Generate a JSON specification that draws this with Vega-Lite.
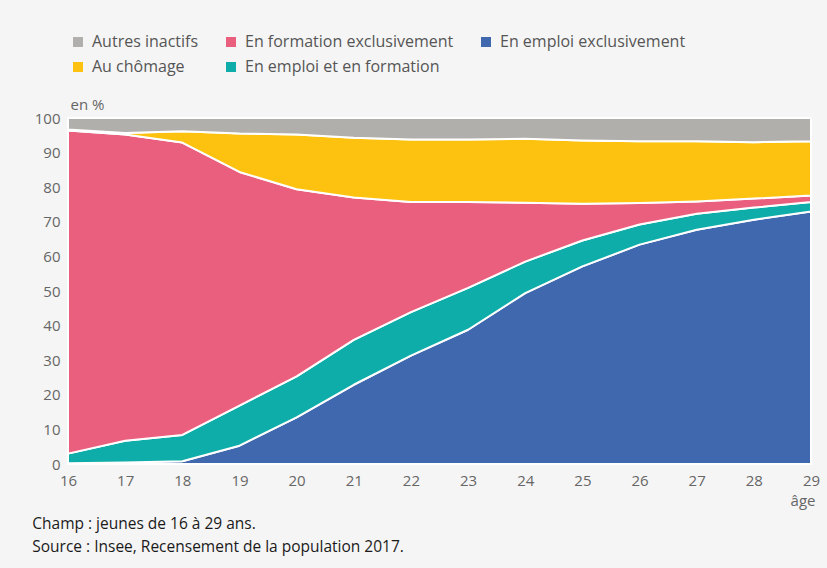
{
  "$schema": "https://vega.github.io/schema/vega-lite/v6.json",
  "width": 743,
  "height": 346,
  "autosize": {"type": "none"},
  "padding": {"left": 68, "top": 118, "right": 16, "bottom": 104},
  "background": "#f5f5f5",
  "config": {
    "font": "Open Sans",
    "view": {"stroke": null},
    "axis": {"labelFont": "Open Sans", "labelFontSize": 15, "labelColor": "#666666", "titleFont": "Open Sans", "titleFontSize": 15, "titleColor": "#666666", "titleFontWeight": "normal"}
  },
  "title": {
    "text": ["Champ : jeunes de 16 à 29 ans.", "Source : Insee, Recensement de la population 2017."],
    "orient": "bottom",
    "anchor": "start",
    "dx": -2,
    "offset": 9,
    "font": "Open Sans",
    "fontSize": 15.5,
    "fontWeight": "normal",
    "color": "#1a1a1a",
    "lineHeight": 23
  },
  "data": {
    "values": [
      {"age": 16, "statut": "En emploi exclusivement", "rang": 1, "part": 0.2},
      {"age": 16, "statut": "En emploi et en formation", "rang": 2, "part": 2.8},
      {"age": 16, "statut": "En formation exclusivement", "rang": 3, "part": 93.4},
      {"age": 16, "statut": "Au chômage", "rang": 4, "part": 0.3},
      {"age": 16, "statut": "Autres inactifs", "rang": 5, "part": 3.3},
      {"age": 17, "statut": "En emploi exclusivement", "rang": 1, "part": 0.4},
      {"age": 17, "statut": "En emploi et en formation", "rang": 2, "part": 6.3},
      {"age": 17, "statut": "En formation exclusivement", "rang": 3, "part": 88.5},
      {"age": 17, "statut": "Au chômage", "rang": 4, "part": 0.5},
      {"age": 17, "statut": "Autres inactifs", "rang": 5, "part": 4.3},
      {"age": 18, "statut": "En emploi exclusivement", "rang": 1, "part": 0.8},
      {"age": 18, "statut": "En emploi et en formation", "rang": 2, "part": 7.6},
      {"age": 18, "statut": "En formation exclusivement", "rang": 3, "part": 84.5},
      {"age": 18, "statut": "Au chômage", "rang": 4, "part": 3.3},
      {"age": 18, "statut": "Autres inactifs", "rang": 5, "part": 3.8},
      {"age": 19, "statut": "En emploi exclusivement", "rang": 1, "part": 5.3},
      {"age": 19, "statut": "En emploi et en formation", "rang": 2, "part": 11.6},
      {"age": 19, "statut": "En formation exclusivement", "rang": 3, "part": 67.5},
      {"age": 19, "statut": "Au chômage", "rang": 4, "part": 11.1},
      {"age": 19, "statut": "Autres inactifs", "rang": 5, "part": 4.5},
      {"age": 20, "statut": "En emploi exclusivement", "rang": 1, "part": 13.5},
      {"age": 20, "statut": "En emploi et en formation", "rang": 2, "part": 11.8},
      {"age": 20, "statut": "En formation exclusivement", "rang": 3, "part": 54.1},
      {"age": 20, "statut": "Au chômage", "rang": 4, "part": 15.8},
      {"age": 20, "statut": "Autres inactifs", "rang": 5, "part": 4.8},
      {"age": 21, "statut": "En emploi exclusivement", "rang": 1, "part": 22.9},
      {"age": 21, "statut": "En emploi et en formation", "rang": 2, "part": 13.0},
      {"age": 21, "statut": "En formation exclusivement", "rang": 3, "part": 41.1},
      {"age": 21, "statut": "Au chômage", "rang": 4, "part": 17.3},
      {"age": 21, "statut": "Autres inactifs", "rang": 5, "part": 5.7},
      {"age": 22, "statut": "En emploi exclusivement", "rang": 1, "part": 31.3},
      {"age": 22, "statut": "En emploi et en formation", "rang": 2, "part": 12.6},
      {"age": 22, "statut": "En formation exclusivement", "rang": 3, "part": 31.8},
      {"age": 22, "statut": "Au chômage", "rang": 4, "part": 18.1},
      {"age": 22, "statut": "Autres inactifs", "rang": 5, "part": 6.2},
      {"age": 23, "statut": "En emploi exclusivement", "rang": 1, "part": 38.8},
      {"age": 23, "statut": "En emploi et en formation", "rang": 2, "part": 12.1},
      {"age": 23, "statut": "En formation exclusivement", "rang": 3, "part": 24.8},
      {"age": 23, "statut": "Au chômage", "rang": 4, "part": 18.1},
      {"age": 23, "statut": "Autres inactifs", "rang": 5, "part": 6.2},
      {"age": 24, "statut": "En emploi exclusivement", "rang": 1, "part": 49.4},
      {"age": 24, "statut": "En emploi et en formation", "rang": 2, "part": 9.1},
      {"age": 24, "statut": "En formation exclusivement", "rang": 3, "part": 17.0},
      {"age": 24, "statut": "Au chômage", "rang": 4, "part": 18.5},
      {"age": 24, "statut": "Autres inactifs", "rang": 5, "part": 6.0},
      {"age": 25, "statut": "En emploi exclusivement", "rang": 1, "part": 57.1},
      {"age": 25, "statut": "En emploi et en formation", "rang": 2, "part": 7.5},
      {"age": 25, "statut": "En formation exclusivement", "rang": 3, "part": 10.6},
      {"age": 25, "statut": "Au chômage", "rang": 4, "part": 18.3},
      {"age": 25, "statut": "Autres inactifs", "rang": 5, "part": 6.5},
      {"age": 26, "statut": "En emploi exclusivement", "rang": 1, "part": 63.4},
      {"age": 26, "statut": "En emploi et en formation", "rang": 2, "part": 5.8},
      {"age": 26, "statut": "En formation exclusivement", "rang": 3, "part": 6.2},
      {"age": 26, "statut": "Au chômage", "rang": 4, "part": 17.9},
      {"age": 26, "statut": "Autres inactifs", "rang": 5, "part": 6.7},
      {"age": 27, "statut": "En emploi exclusivement", "rang": 1, "part": 67.7},
      {"age": 27, "statut": "En emploi et en formation", "rang": 2, "part": 4.6},
      {"age": 27, "statut": "En formation exclusivement", "rang": 3, "part": 3.6},
      {"age": 27, "statut": "Au chômage", "rang": 4, "part": 17.4},
      {"age": 27, "statut": "Autres inactifs", "rang": 5, "part": 6.7},
      {"age": 28, "statut": "En emploi exclusivement", "rang": 1, "part": 70.6},
      {"age": 28, "statut": "En emploi et en formation", "rang": 2, "part": 3.5},
      {"age": 28, "statut": "En formation exclusivement", "rang": 3, "part": 2.6},
      {"age": 28, "statut": "Au chômage", "rang": 4, "part": 16.3},
      {"age": 28, "statut": "Autres inactifs", "rang": 5, "part": 7.0},
      {"age": 29, "statut": "En emploi exclusivement", "rang": 1, "part": 73.0},
      {"age": 29, "statut": "En emploi et en formation", "rang": 2, "part": 2.7},
      {"age": 29, "statut": "En formation exclusivement", "rang": 3, "part": 1.9},
      {"age": 29, "statut": "Au chômage", "rang": 4, "part": 15.7},
      {"age": 29, "statut": "Autres inactifs", "rang": 5, "part": 6.7}
    ]
  },
  "mark": {"type": "area", "stroke": "white", "strokeWidth": 2, "strokeJoin": "round", "opacity": 1},
  "encoding": {
    "x": {
      "field": "age", "type": "quantitative",
      "scale": {"domain": [16, 29], "nice": false, "zero": false},
      "axis": {
        "values": [16, 17, 18, 19, 20, 21, 22, 23, 24, 25, 26, 27, 28, 29],
        "grid": false, "domain": false, "ticks": false, "labelPadding": 9, "labelFlush": false,
        "title": "âge", "titleAnchor": "end", "titleAlign": "right", "titleX": 747, "titleY": 36, "titleBaseline": "middle"
      }
    },
    "y": {
      "field": "part", "type": "quantitative", "stack": "zero",
      "scale": {"domain": [0, 100], "nice": false},
      "axis": {
        "values": [0, 10, 20, 30, 40, 50, 60, 70, 80, 90, 100],
        "grid": false, "domain": false, "ticks": false, "labelPadding": 8, "labelFlush": false,
        "title": "en %", "titleAngle": 0, "titleX": 2, "titleY": -14, "titleAlign": "left", "titleBaseline": "middle"
      }
    },
    "order": {"field": "rang", "type": "quantitative", "sort": "ascending"},
    "color": {
      "field": "statut", "type": "nominal",
      "scale": {
        "domain": ["Autres inactifs", "En formation exclusivement", "En emploi exclusivement", "Au chômage", "En emploi et en formation"],
        "range": ["#b0afab", "#ea5f7d", "#3f68ae", "#fdc20f", "#0fada9"]
      },
      "legend": {
        "title": null,
        "orient": "none",
        "legendX": 2,
        "legendY": -84,
        "direction": "horizontal",
        "columns": 3,
        "symbolType": "square",
        "symbolSize": 100,
        "symbolStrokeWidth": 0,
        "symbolOpacity": 1,
        "labelFont": "Open Sans",
        "labelFontSize": 16,
        "labelColor": "#555555",
        "labelOffset": 6,
        "labelLimit": 400,
        "columnPadding": 24,
        "rowPadding": 9
      }
    }
  }
}
